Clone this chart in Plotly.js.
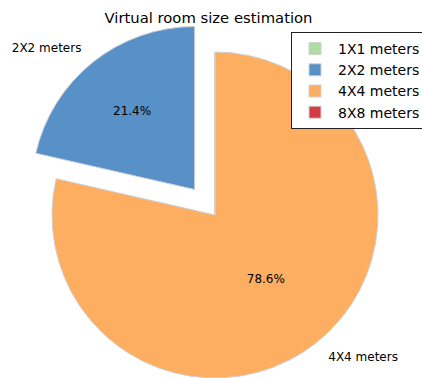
<!DOCTYPE html>
<html>
<head>
<meta charset="utf-8">
<script src="https://cdn.plot.ly/plotly-3.0.1.min.js"></script>
<style>
  html, body { margin: 0; padding: 0; overflow: hidden; background: #fff; }
  #chart { width: 440px; height: 440px; }
</style>
</head>
<body>
<div id="chart"></div>
<script>
// Room size categories and their counts
const categories = ['1X1 meters', '2X2 meters', '4X4 meters', '8X8 meters'];
const counts = [0, 3, 11, 0];
const sliceColors = ['#acdea0', '#5891c8', '#fdae61', '#d63c41'];
const explode = [0, 0.2, 0, 0];

// Drawing surface (larger than the window; the excess is clipped)
const W = 440, H = 440;
const FONT = 'DejaVu Sans, sans-serif';

// Pie geometry in pixels: centre and radius of the unexploded pie
const CX = 215, CY = 215, R = 163;

// Domain that gives a pie of radius r centred at (cx, cy) when the largest pull is p
function pieDomain(cx, cy, r, p) {
  const half = r * (1 + p);
  return {
    x: [(cx - half) / W, (cx + half) / W],
    y: [1 - (cy + half) / H, 1 - (cy - half) / H]
  };
}

const maxPull = Math.max(...explode);

// Percentages shown inside the non-empty wedges
const pctTemplate = counts.map(v => (v > 0 ? '%{percent}' : ''));
// Category names shown outside the non-empty wedges
const nameTemplate = counts.map(v => (v > 0 ? '%{label}' : ''));

// Outer ring for the names, a little wider than the pie itself
const RL = R * 1.08;
const labelPull = explode.map(e => e * R / RL);

const wedges = {
  type: 'pie',
  labels: categories,
  values: counts,
  sort: false,
  direction: 'counterclockwise',
  rotation: 0,
  pull: explode,
  domain: pieDomain(CX, CY, R, maxPull),
  marker: { colors: sliceColors, line: { color: '#d0d0d0', width: 1 } },
  texttemplate: pctTemplate,
  textposition: 'inside',
  insidetextorientation: 'horizontal',
  insidetextfont: { family: FONT, size: 12, color: '#000' },
  hoverinfo: 'label+percent',
  showlegend: true
};

const names = {
  type: 'pie',
  labels: categories,
  values: counts,
  sort: false,
  direction: 'counterclockwise',
  rotation: 0,
  pull: labelPull,
  domain: pieDomain(CX, CY, RL, Math.max(...labelPull)),
  marker: { colors: categories.map(() => 'rgba(0,0,0,0)'), line: { width: 0 } },
  texttemplate: nameTemplate,
  textposition: 'outside',
  outsidetextfont: { family: FONT, size: 12, color: '#000' },
  hoverinfo: 'skip',
  showlegend: false
};

const layout = {
  width: W,
  height: H,
  margin: { l: 0, r: 0, t: 0, b: 0 },
  paper_bgcolor: '#fff',
  font: { family: FONT, color: '#000' },
  title: {
    text: 'Virtual room size estimation',
    font: { family: FONT, size: 14.8, color: '#000' },
    xref: 'container', yref: 'container',
    x: 208.5 / W, xanchor: 'center',
    y: 1 - 18 / H, yanchor: 'middle'
  },
  legend: {
    x: 291 / W, xanchor: 'left',
    y: 1 - 32 / H, yanchor: 'top',
    bordercolor: '#222',
    borderwidth: 1,
    bgcolor: '#fff',
    font: { family: FONT, size: 14, color: '#000' },
    itemwidth: 36
  },
  showlegend: true
};

Plotly.newPlot('chart', [wedges, names], layout, { displayModeBar: false, staticPlot: true });
</script>
</body>
</html>
